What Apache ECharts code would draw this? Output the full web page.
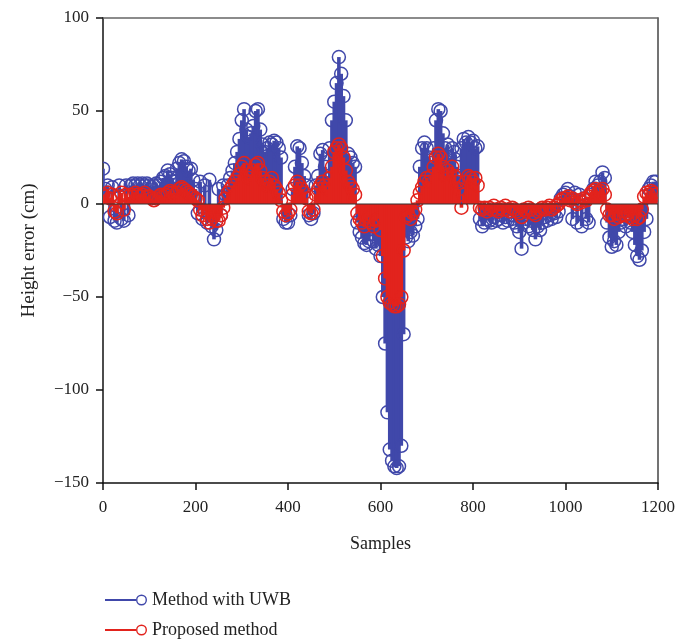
<!DOCTYPE html>
<html>
<head>
<meta charset="utf-8">
<script src="https://cdn.jsdelivr.net/npm/echarts@6/dist/echarts.min.js"></script>
<style>html,body{margin:0;padding:0;background:#fff;}#chart{width:679px;height:640px;}</style>
</head>
<body>
<div id="chart"></div>
<script>
// sample index = position * sampleStep
const sampleStep = 5;
const xTicks = [0, 200, 400, 600, 800, 1000, 1200];
const yTicks = [-150, -100, -50, 0, 50, 100];
const seriesNames = ['Method with UWB', 'Proposed method'];

const uwbErr = [
  19, 8, 10, -7, 9, -9, -10, 10, -8, -9, 10, -6, 10, 11, 10, 11, 10, 11, 10, 11,
  10, 9, 10, 11, 10, 12, 14, 15, 18, 16, 14, 12, 19, 22, 24, 23, 20, 18, 19, 13,
  8, -5, 12, -8, 10, -10, 13, -12, -19, -14, 8, -6, 10, 5, 10, 14, 18, 22, 28, 35,
  45, 51, 40, 36, 38, 42, 50, 51, 40, 32, 28, 30, 33, 32, 34, 33, 30, 25, -8, -10,
  -10, -6, 8, 20, 31, 30, 22, 15, 10, -6, -8, -5, 10, 15, 27, 29, 20, 15, 30, 45,
  55, 65, 79, 70, 58, 45, 27, 25, 22, 20, -10, -15, -18, -21, -22, -20, -16, -20, -24, -22,
  -28, -50, -75, -112, -132, -138, -141, -142, -141, -130, -70, -18, -20, -15, -17, -12, -8, 20, 30, 33,
  30, 25, 22, 30, 45, 51, 50, 38, 30, 32, 25, 30, 28, 20, 15, 30, 35, 33, 36, 33,
  34, 30, 31, -8, -12, -10, -8, -9, -10, -7, -9, -8, -6, -10, -7, -9, -6, -8, -10, -12,
  -15, -24, -10, -8, -12, -9, -14, -19, -12, -14, -10, -7, -9, -6, -8, -5, -7, -4, 3, 5,
  6, 8, 4, -8, 6, -10, 5, -12, 3, -8, -10, 5, 8, 12, 10, 12, 17, 14, -10, -18,
  -23, -20, -22, -15, -10, -8, -12, -6, -10, -15, -22, -28, -30, -25, -15, -8, 8, 10, 12, 12
];

const proposedErr = [
  5, 4, 6, 3, 5, -4, -5, 4, 6, -3, 5, 4, 5, 4, 6, 5, 4, 5, 6, 4,
  4, 3, 2, 3, 4, 5, 4, 5, 6, 7, 6, 5, 6, 8, 9, 8, 7, 6, 5, 4,
  3, 2, -3, -6, -4, -8, -10, -8, -6, -9, -9, -6, -2, 3, 6, 8, 10, 12, 14, 16,
  20, 22, 18, 14, 16, 18, 21, 22, 18, 14, 12, 10, 12, 14, 10, 8, 6, 2, -4, -6,
  -5, -3, 5, 10, 12, 10, 8, 6, 3, -4, -5, -3, 5, 8, 10, 12, 10, 8, 14, 20,
  28, 30, 32, 30, 25, 18, 12, 10, 8, 5, -5, -8, -10, -12, -9, -7, -10, -12, -9, -8,
  -14, -28, -40, -50, -53, -54, -55, -55, -54, -50, -25, -7, -6, -8, -5, -3, 2, 6, 9, 12,
  14, 12, 15, 20, 25, 27, 25, 20, 15, 18, 16, 20, 15, 12, 8, -2, 5, 12, 15, 14,
  12, 14, 10, -2, -3, -2, -4, -2, -3, -1, -3, -4, -2, -3, -1, -3, -4, -2, -3, -4,
  -5, -7, -3, -4, -2, -3, -5, -6, -4, -3, -2, -3, -2, -1, -3, -2, -1, 0, 2, 3,
  3, 4, 2, 3, 1, 0, 2, 1, 3, 2, 4, 6, 7, 8, 6, 7, 8, 5, -3, -6,
  -6, -8, -5, -7, -6, -4, -6, -5, -7, -8, -6, -8, -7, -3, 4, 6, 5, 7, 6, 5
];

const colors = ['#4048AA', '#E2231D'];
const FONT = '"Liberation Serif", "DejaVu Serif", serif';

function toPairs(arr) { return arr.map((v, i) => [i * sampleStep, v]); }

function stemRenderer(color) {
  return function (params, api) {
    const x = api.value(0), v = api.value(1);
    const p0 = api.coord([x, 0]);
    const p1 = api.coord([x, v]);
    return {
      type: 'group',
      children: [
        { type: 'line', shape: { x1: p0[0], y1: p0[1], x2: p1[0], y2: p1[1] },
          style: { stroke: color, lineWidth: 3.6 } },
        { type: 'circle', shape: { cx: p1[0], cy: p1[1], r: 6.5 },
          style: { fill: 'none', stroke: color, lineWidth: 1.5 } }
      ]
    };
  };
}

// legend icon: a line ending in an open ring
const legendIcon = 'path://M0,5 L31,5 L31,7 L0,7 Z M42,6 A5.5,5.5 0 1,0 31,6 A5.5,5.5 0 1,0 42,6 Z M40.6,6 A4.1,4.1 0 1,1 32.4,6 A4.1,4.1 0 1,1 40.6,6 Z';

function legendAt(top, name) {
  return {
    left: 100, top: top, itemWidth: 42, itemHeight: 12, icon: legendIcon, itemGap: 0,
    textStyle: { fontFamily: FONT, fontSize: 18, color: '#222' },
    data: [name], selectedMode: false
  };
}

const chart = echarts.init(document.getElementById('chart'));
chart.setOption({
  animation: false,
  backgroundColor: '#fff',
  grid: { left: 103, right: 21, top: 18, bottom: 157 },
  legend: [legendAt(586, seriesNames[0]), legendAt(616, seriesNames[1])],
  xAxis: [{
    type: 'value', min: xTicks[0], max: xTicks[xTicks.length - 1], interval: 200,
    name: 'Samples', nameLocation: 'middle', nameGap: 52,
    nameTextStyle: { fontFamily: FONT, fontSize: 18, color: '#222' },
    axisLine: { onZero: false, lineStyle: { color: '#111', width: 1.5 } },
    axisTick: { inside: false, length: 7, lineStyle: { color: '#111', width: 1.5 } },
    axisLabel: { fontFamily: FONT, fontSize: 17, color: '#222', margin: 16,
      formatter: v => String(v) },
    splitLine: { show: false }
  }, {
    type: 'value', position: 'top', min: 0, max: 1200,
    axisLine: { show: true, onZero: false, lineStyle: { color: '#666', width: 1.5 } },
    axisTick: { show: false }, axisLabel: { show: false }, splitLine: { show: false }
  }],
  yAxis: [{
    type: 'value', min: yTicks[0], max: yTicks[yTicks.length - 1], interval: 50,
    name: 'Height error (cm)', nameLocation: 'middle', nameGap: 64,
    nameTextStyle: { fontFamily: FONT, fontSize: 19, color: '#222' },
    axisLine: { show: true, onZero: false, lineStyle: { color: '#111', width: 1.5 } },
    axisTick: { show: true, inside: false, length: 7, lineStyle: { color: '#111', width: 1.5 } },
    axisLabel: { fontFamily: FONT, fontSize: 17, color: '#222', margin: 14,
      formatter: v => (v < 0 ? '\u2212' + Math.abs(v) : String(v)) },
    splitLine: { show: false }
  }, {
    type: 'value', position: 'right', min: -150, max: 100,
    axisLine: { show: true, onZero: false, lineStyle: { color: '#444', width: 1.5 } },
    axisTick: { show: false }, axisLabel: { show: false }, splitLine: { show: false }
  }],
  series: [
    {
      name: seriesNames[0], type: 'custom', xAxisIndex: 0, yAxisIndex: 0,
      renderItem: stemRenderer(colors[0]), data: toPairs(uwbErr),
      itemStyle: { color: colors[0] }, z: 2, clip: true,
      encode: { x: 0, y: 1 }
    },
    {
      name: seriesNames[1], type: 'custom', xAxisIndex: 0, yAxisIndex: 0,
      renderItem: stemRenderer(colors[1]), data: toPairs(proposedErr),
      itemStyle: { color: colors[1] }, z: 3, clip: true,
      encode: { x: 0, y: 1 }
    },
    {
      name: 'baseline', type: 'line', xAxisIndex: 0, yAxisIndex: 0,
      data: [[0, 0], [1200, 0]], symbol: 'none', silent: true,
      lineStyle: { color: '#333', width: 1.2 }, z: 4
    }
  ]
});
</script>
</body>
</html>
